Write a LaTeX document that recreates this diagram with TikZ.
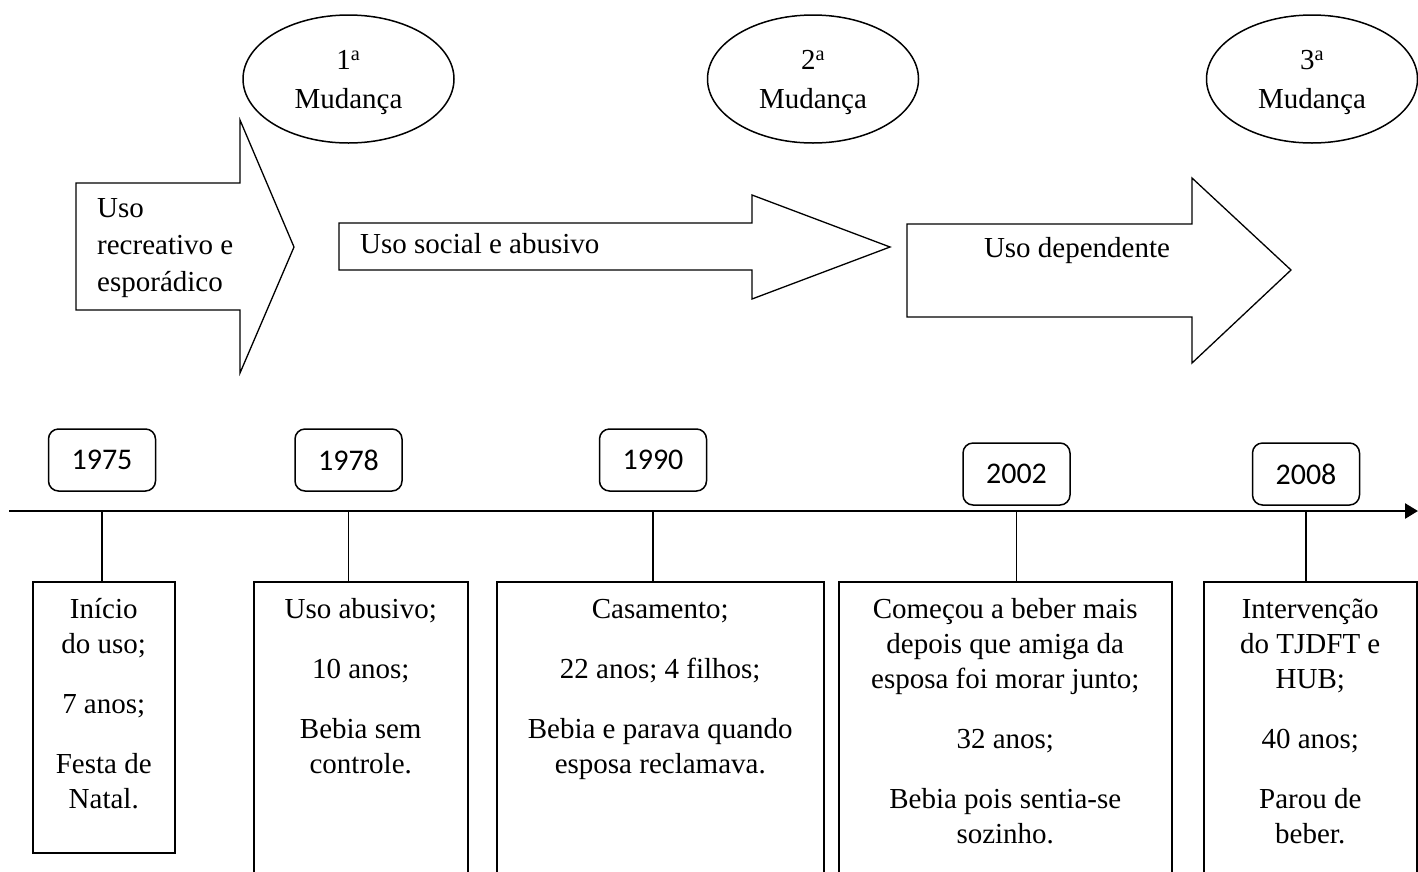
\documentclass[tikz,border=0pt]{standalone}
\usepackage{fontspec}
\setmainfont{Liberation Serif}
\newfontfamily\yearfont{Carlito}
\usetikzlibrary{arrows.meta,shapes.geometric}

\begin{document}
\begin{tikzpicture}[x=1pt,y=-1pt,
  phase/.style={draw, line width=1.3pt, fill=white, line join=miter},
  phaselabel/.style={inner sep=0pt, font=\fontsize{29}{37}\selectfont},
  change/.style={draw, ellipse, line width=1.5pt, minimum width=211pt, minimum height=128pt,
    inner sep=0pt, align=center, font=\fontsize{29}{39}\selectfont},
  yearbox/.style={draw, rounded corners=10pt, line width=1.5pt, minimum width=107pt,
    minimum height=62pt, inner sep=0pt, font=\yearfont\fontsize{30}{36}\selectfont},
  event/.style={draw, line width=1.5pt, anchor=north west, inner sep=0pt,
    font=\fontsize{29}{35}\selectfont},
  link/.style={line width=1.3pt},
  axis/.style={line width=2.6pt, -{Triangle[length=13pt,width=15pt]}}
]
\clip (0,0) rectangle (1418,871);
\fill[white] (0,0) rectangle (1418,871);

% ---- phase arrows -------------------------------------------------------
\draw[phase] (76,183) -- (240,183) -- (240,120) -- (294,247) -- (240,373)
  -- (240,310) -- (76,310) -- cycle;
\draw[phase] (339,223) -- (752,223) -- (752,195) -- (890,247) -- (752,299)
  -- (752,270) -- (339,270) -- cycle;
\draw[phase] (907,224) -- (1192,224) -- (1192,178) -- (1291,270) -- (1192,363)
  -- (1192,317) -- (907,317) -- cycle;

\node[phaselabel, anchor=north west] (ph1) at (97,180)
  {\parbox[t]{150pt}{\raggedright\rule{0pt}{37pt}Uso\\recreativo e\\esporádico}};
\node[phaselabel, anchor=base west] (ph2) at (360,253) {Uso social e abusivo};
\node[phaselabel, anchor=base] (ph3) at (1077,257) {Uso dependente};

% ---- changes -------------------------------------------------------------
\node[change] (m1) at (348.5,79) {\rule{0pt}{27pt}1\textsuperscript{a}\\Mudança};
\node[change] (m2) at (813,79) {\rule{0pt}{27pt}2\textsuperscript{a}\\Mudança};
\node[change] (m3) at (1312,79) {\rule{0pt}{27pt}3\textsuperscript{a}\\Mudança};

% ---- time axis -----------------------------------------------------------
\coordinate (axisL) at (9,511);
\coordinate (axisR) at (1418,511);

\node[yearbox] (y1975) at (102,460) {1975};
\node[yearbox] (y1978) at (348.5,460) {1978};
\node[yearbox] (y1990) at (653,460) {1990};
\node[yearbox] (y2002) at (1016.5,474) {2002};
\node[yearbox] (y2008) at (1306,474) {2008};

% ---- events --------------------------------------------------------------
\node[event] (e1) at (32,581) {\parbox[t][271pt][t]{142pt}{\centering
  \rule{0pt}{37pt}Início\\do uso;\\[25pt]7 anos;\\[25pt]Festa de\\Natal.}};
\node[event] (e2) at (253,581) {\parbox[t][330pt][t]{214pt}{\centering
  \rule{0pt}{37pt}Uso abusivo;\\[25pt]10 anos;\\[25pt]Bebia sem\\controle.}};
\node[event] (e3) at (496,581) {\parbox[t][330pt][t]{327pt}{\centering
  \rule{0pt}{37pt}Casamento;\\[25pt]22 anos; 4 filhos;\\[25pt]Bebia e parava quando\\esposa reclamava.}};
\node[event] (e4) at (838,581) {\parbox[t][330pt][t]{333pt}{\centering
  \rule{0pt}{37pt}Começou a beber mais\\depois que amiga da\\esposa foi morar junto;\\[25pt]32 anos;\\[25pt]Bebia pois sentia-se\\sozinho.}};
\node[event] (e5) at (1203,581) {\parbox[t][330pt][t]{213pt}{\centering
  \rule{0pt}{37pt}Intervenção\\do TJDFT e\\HUB;\\[25pt]40 anos;\\[25pt]Parou de\\beber.}};

% each event hangs from the axis below its year
\foreach \y/\e in {y1975/e1, y1978/e2, y1990/e3, y2002/e4, y2008/e5}
  \draw[link] (\y |- \e.north) -- (\y |- axisL);

\draw[axis] (axisL) -- (axisR);
\end{tikzpicture}
\end{document}
